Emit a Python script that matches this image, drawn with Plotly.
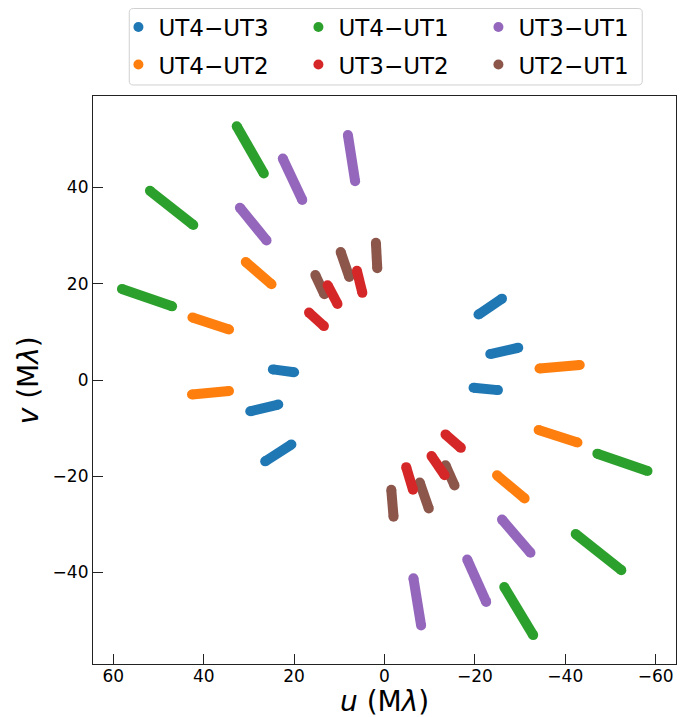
import plotly.graph_objects as go

# Baseline names (legend) and colours
names = ["UT4−UT3", "UT4−UT2", "UT4−UT1", "UT3−UT2", "UT3−UT1", "UT2−UT1"]
colors = ["#1f77b4", "#ff7f0e", "#2ca02c", "#d62728", "#9467bd", "#8c564b"]

# Track endpoints (u, v) in Mλ; None separates tracks
ut4_ut3_u = [24.7, 20.0, None, 29.7, 23.5, None, 26.4, 20.6, None,
             -20.8, -26.0, None, -23.4, -29.6, None, -19.7, -25.1]
ut4_ut3_v = [2.2, 1.6, None, -6.5, -5.1, None, -16.9, -13.4, None,
             13.6, 16.9, None, 5.4, 6.7, None, -1.6, -2.1]

ut4_ut2_u = [30.7, 25.0, None, 42.5, 34.4, None, 42.6, 34.4, None,
             -34.3, -43.2, None, -34.1, -42.7, None, -24.9, -31.0]
ut4_ut2_v = [24.5, 19.9, None, 13.0, 10.5, None, -3.0, -2.3, None,
             2.4, 3.1, None, -10.4, -13.0, None, -19.8, -24.6]

ut4_ut1_u = [32.7, 26.7, None, 51.9, 42.3, None, 58.1, 47.0, None,
             -47.1, -58.2, None, -42.3, -52.4, None, -26.5, -32.9]
ut4_ut1_v = [52.7, 42.9, None, 39.3, 32.2, None, 18.9, 15.3, None,
             -15.3, -18.9, None, -32.0, -39.5, None, -43.0, -53.0]

ut3_ut2_u = [16.7, 13.4, None, 12.6, 10.4, None, 6.1, 4.9, None,
             -13.5, -16.9, None, -10.4, -13.3, None, -4.8, -6.3]
ut3_ut2_v = [14.0, 11.2, None, 19.7, 15.8, None, 22.7, 18.1, None,
             -11.3, -14.1, None, -15.8, -19.8, None, -18.1, -22.8]

ut3_ut1_u = [8.1, 6.5, None, 22.5, 18.2, None, 32.0, 26.1, None,
             -26.0, -32.3, None, -18.3, -22.5, None, -6.4, -8.1]
ut3_ut1_v = [50.9, 41.3, None, 46.0, 37.4, None, 35.8, 29.0, None,
             -29.0, -35.9, None, -37.3, -46.1, None, -41.2, -51.0]

ut2_ut1_u = [15.3, 13.3, None, 9.7, 7.8, None, 1.9, 1.6, None,
             -13.5, -15.5, None, -7.8, -9.8, None, -1.5, -2.0]
ut2_ut1_v = [21.8, 17.8, None, 26.6, 21.4, None, 28.5, 23.2, None,
             -17.7, -21.9, None, -21.3, -26.7, None, -22.8, -28.4]

series_u = [ut4_ut3_u, ut4_ut2_u, ut4_ut1_u, ut3_ut2_u, ut3_ut1_u, ut2_ut1_u]
series_v = [ut4_ut3_v, ut4_ut2_v, ut4_ut1_v, ut3_ut2_v, ut3_ut1_v, ut2_ut1_v]

x_ticks = [60, 40, 20, 0, -20, -40, -60]
y_ticks = [-40, -20, 0, 20, 40]


def tick_text(ticks):
    return [("−" + str(-t)) if t < 0 else str(t) for t in ticks]


# legend rows (3 columns): row 1 -> legend, row 2 -> legend2
legend_of = {0: "legend", 2: "legend", 4: "legend",
             1: "legend2", 3: "legend2", 5: "legend2"}
legend_rank = {0: 1, 2: 2, 4: 3, 1: 1, 3: 2, 5: 3}
# drawing order: red above brown
draw_order = [0, 1, 2, 4, 5, 3]

W = 10
fig = go.Figure()
for i in draw_order:
    fig.add_trace(go.Scatter(
        x=series_u[i], y=series_v[i], mode="lines",
        line=dict(color=colors[i], width=W),
        showlegend=False, hoverinfo="skip", connectgaps=False))
    fig.add_trace(go.Scatter(
        x=series_u[i], y=series_v[i], mode="markers", name=names[i],
        marker=dict(color=colors[i], size=W, line=dict(width=0)),
        legend=legend_of[i], legendrank=legend_rank[i]))

font = "DejaVu Sans, Liberation Sans, sans-serif"
leg_common = dict(orientation="h", x=0.0436, xanchor="left", yanchor="middle",
                  font=dict(size=23, family=font), entrywidth=135,
                  entrywidthmode="pixels", borderwidth=0,
                  bgcolor="rgba(0,0,0,0)")

# legend frame (rounded rectangle) in paper coordinates
x0, x1, y0, y1 = 0.0622, 0.9421, 1.0194, 1.154
rx, ry = 0.0069, 0.0070
frame_path = (f"M {x0+rx},{y1} L {x1-rx},{y1} Q {x1},{y1} {x1},{y1-ry} "
              f"L {x1},{y0+ry} Q {x1},{y0} {x1-rx},{y0} L {x0+rx},{y0} "
              f"Q {x0},{y0} {x0},{y0+ry} L {x0},{y1-ry} Q {x0},{y1} {x0+rx},{y1} Z")

# the page body adds an 8px margin; the figure size compensates for it
fig.update_layout(
    width=679, height=709,
    margin=dict(l=85, r=11, t=88, b=53, autoexpand=False),
    paper_bgcolor="white", plot_bgcolor="white",
    font=dict(family=font, color="black"),
    showlegend=True,
    legend=dict(y=1.1215, **leg_common),
    legend2=dict(y=1.0553, **leg_common),
    shapes=[dict(type="path", path=frame_path, xref="paper", yref="paper",
                 line=dict(color="#d0d0d0", width=1), fillcolor="rgba(0,0,0,0)",
                 layer="below")],
    annotations=[
        dict(text="<i>u</i> (M<i>λ</i>)", x=0.5, y=-0.0665, xref="paper", yref="paper",
             xanchor="center", yanchor="middle", showarrow=False,
             font=dict(size=28, family=font)),
        dict(text="<i>v</i> (M<i>λ</i>)", x=-0.111, y=0.5, xref="paper", yref="paper",
             xanchor="center", yanchor="middle", showarrow=False, textangle=-90,
             font=dict(size=28, family=font)),
    ],
    xaxis=dict(
        range=[64.5, -64.5], tickvals=x_ticks, ticktext=tick_text(x_ticks),
        ticks="inside", ticklen=10, tickwidth=1.2, tickcolor="#222",
        showline=True, mirror=True, linecolor="#222", linewidth=1.2,
        showgrid=False, zeroline=False, automargin=False,
        tickfont=dict(size=17, family=font), ticklabelstandoff=-4),
    yaxis=dict(
        range=[-59, 59], tickvals=y_ticks, ticktext=tick_text(y_ticks),
        ticks="inside", ticklen=10, tickwidth=1.2, tickcolor="#222",
        showline=True, mirror=True, linecolor="#222", linewidth=1.2,
        showgrid=False, zeroline=False, automargin=False,
        tickfont=dict(size=17, family=font), ticklabelstandoff=0),
)

fig.write_html("out.html")
